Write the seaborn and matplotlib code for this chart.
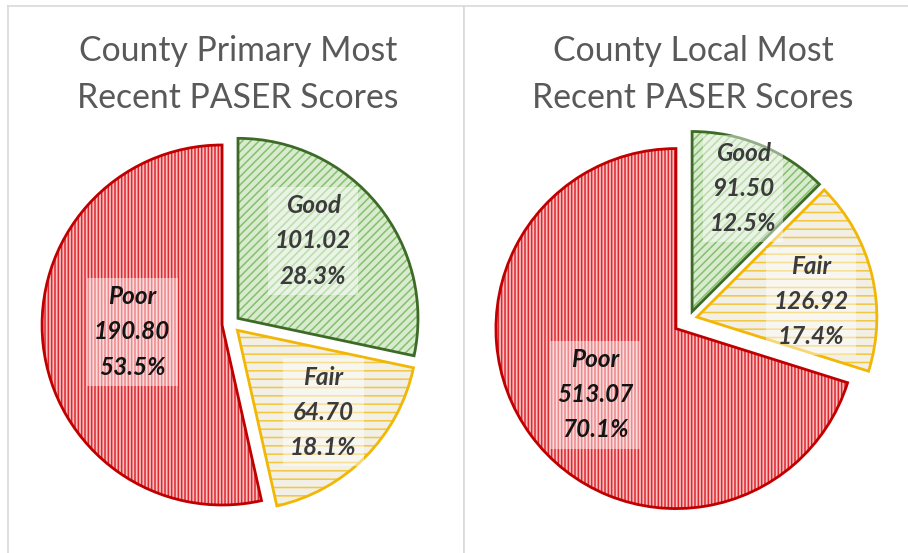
import numpy as np
import matplotlib
matplotlib.use("Agg")
from matplotlib import pyplot as plt
import seaborn as sns

# PASER condition categories and miles per category
categories = ["Good", "Fair", "Poor"]
primary_miles = [101.02, 64.70, 190.80]
local_miles = [91.50, 126.92, 513.07]
titles = ["County Primary Most\nRecent PASER Scores", "County Local Most\nRecent PASER Scores"]

face_colors = ["#d8ebcf", "#f1efe6", "#f5c0c0"]
hatch_colors = ["#86bf6d", "#f3c63c", "#e2262d"]
edge_colors = ["#3d6b27", "#f2b705", "#c00000"]
hatches = ["////", "--", "|||||"]
text_colors = ["#3b3b3b", "#3b3b3b", "#141414"]

sns.set_theme(style="white")
plt.rcParams['font.family'] = ['Lato', 'DejaVu Sans']
plt.rcParams['hatch.linewidth'] = 1.1


def draw_pie(ax, values, explode, label_dist, label_turn, title, title_x):
    wedges, _ = ax.pie(values, colors=face_colors, explode=explode, startangle=90,
                       counterclock=False, radius=1, wedgeprops=dict(linewidth=0))
    for w, hatch, hc in zip(wedges, hatches, hatch_colors):
        w.set_hatch(hatch)
        w.set_edgecolor(hc)
        w.set_linewidth(0)
    outlines, _ = ax.pie(values, colors=["none"] * 3, explode=explode, startangle=90,
                         counterclock=False, radius=1, wedgeprops=dict(linewidth=2.0))
    for w, ec in zip(outlines, edge_colors):
        w.set_edgecolor(ec)
        w.set_joinstyle("miter")

    total = sum(values)
    for w, cat, val, d, turn, tc in zip(wedges, categories, values, label_dist, label_turn, text_colors):
        mid = np.deg2rad((w.theta1 + w.theta2) / 2 + turn)
        cx, cy = w.center
        ax.text(cx + d * np.cos(mid), cy + d * np.sin(mid),
                "{}\n{:.2f}\n{:.1f}%".format(cat, val, val / total * 100),
                ha="center", va="center", fontsize=17.5, fontweight="bold", fontstyle="italic",
                color=tc, linespacing=1.65,
                bbox=dict(facecolor="white", alpha=0.45, edgecolor="none", pad=5))

    ax.text(title_x, 0.875, title, transform=ax.transAxes, ha="center", va="center",
            fontsize=24.3, color="#595959", linespacing=1.55)


fig = plt.figure(figsize=(9.08, 5.53), dpi=100)
scale = 180.0

ax1 = fig.add_axes([8 / 908, 0, 456 / 908, 547 / 553])
draw_pie(ax1, primary_miles, [0.05, 0.05, 0.05], [0.60, 0.66, 0.50], [7, 1, -2], titles[0], 0.504)
ax1.set_xlim(-223 / scale, 233 / scale)
ax1.set_ylim(-229 / scale, 318 / scale)

ax2 = fig.add_axes([464 / 908, 0, 444 / 908, 547 / 553])
draw_pie(ax2, local_miles, [0.045, 0.045, 0.09], [0.74, 0.64, 0.58], [0, -6, 3], titles[1], 0.516)
ax2.set_xlim(-225 / scale, 219 / scale)
ax2.set_ylim(-234 / scale, 313 / scale)

for ax, hide in [(ax1, ["bottom"]), (ax2, ["bottom", "right"])]:
    ax.set_frame_on(True)
    ax.set_xticks([])
    ax.set_yticks([])
    for name, sp in ax.spines.items():
        sp.set_color("#d9d9d9")
        sp.set_linewidth(1.2)
        sp.set_visible(name not in hide)

fig.savefig("out.png", dpi=100, facecolor="white")
